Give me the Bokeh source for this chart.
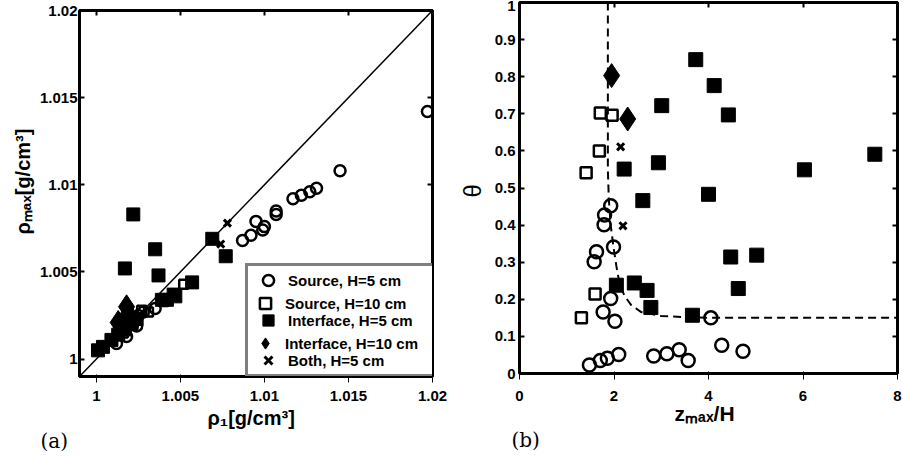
from bokeh.plotting import figure
from bokeh.models import LinearAxis, FixedTicker, Legend, LegendItem, Range1d, Title
from bokeh.layouts import row
from bokeh.embed import file_html
from bokeh.resources import INLINE

# ---------------- panel (a): rho_max against rho_1 ----------------
rho_ticks = [1.0, 1.005, 1.01, 1.015, 1.02]
rho_tick_labels = ["1", "1.005", "1.01", "1.015", "1.02"]

# Source, H=5 cm
a_src5_rho1 = [1.0197, 1.0145, 1.0131, 1.0127, 1.0122, 1.0117, 1.0107, 1.0107,
               1.0100, 1.0099, 1.0095, 1.0092, 1.0087, 1.0035, 1.0028, 1.0025,
               1.0024, 1.0018, 1.0012]
a_src5_rhomax = [1.0142, 1.0108, 1.0098, 1.0096, 1.0094, 1.0092, 1.0085, 1.0083,
                 1.0076, 1.0074, 1.0079, 1.0071, 1.0068, 1.0029, 1.0027, 1.0025,
                 1.0019, 1.0013, 1.0009]
# Source, H=10 cm
a_src10_rho1 = [1.0052, 1.0027, 1.0031, 1.0022, 1.0016, 1.0040]
a_src10_rhomax = [1.0043, 1.0028, 1.0027, 1.0021, 1.0015, 1.0033]
# Interface, H=5 cm
a_int5_rho1 = [1.0022, 1.0035, 1.0017, 1.0037, 1.0069, 1.0077, 1.0057, 1.0047,
               1.0042, 1.0039, 1.0046, 1.0024, 1.0021, 1.0017, 1.0013, 1.0009,
               1.0004, 1.0001]
a_int5_rhomax = [1.0083, 1.0063, 1.0052, 1.0048, 1.0069, 1.0059, 1.0044, 1.0036,
                 1.0034, 1.0034, 1.0037, 1.0023, 1.0020, 1.0017, 1.0014, 1.0011,
                 1.0007, 1.0005]
# Interface, H=10 cm
a_int10_rho1 = [1.0018, 1.0013, 1.0019]
a_int10_rhomax = [1.0030, 1.0021, 1.0026]
# Both, H=5 cm
a_both5_rho1 = [1.0078, 1.0074]
a_both5_rhomax = [1.0078, 1.0066]

identity_line = [0.999, 1.02]

# ---------------- panel (b): theta against z_max/H ----------------
z_ticks = [0, 2, 4, 6, 8]
z_tick_labels = ["0", "2", "4", "6", "8"]
theta_ticks = [0, 0.1, 0.2, 0.3, 0.4, 0.5, 0.6, 0.7, 0.8, 0.9, 1.0]
theta_tick_labels = ["0", "0.1", "0.2", "0.3", "0.4", "0.5", "0.6", "0.7", "0.8", "0.9", "1"]

b_src5_z = [1.93, 1.80, 1.79, 1.99, 1.63, 1.58, 1.93, 1.77, 2.02, 4.05,
            1.48, 1.71, 1.86, 2.10, 2.84, 3.12, 3.38, 3.57, 4.28, 4.73]
b_src5_theta = [0.452, 0.427, 0.401, 0.341, 0.328, 0.301, 0.202, 0.166, 0.141, 0.150,
                0.023, 0.035, 0.041, 0.051, 0.047, 0.053, 0.064, 0.035, 0.076, 0.060]
b_src10_z = [1.71, 1.96, 1.69, 1.41, 1.60, 1.31]
b_src10_theta = [0.702, 0.696, 0.600, 0.541, 0.214, 0.150]
b_int5_z = [3.73, 4.12, 3.01, 4.42, 2.94, 2.215, 6.03, 7.52, 2.61, 4.00,
            4.47, 5.02, 4.63, 2.05, 2.43, 2.70, 2.78, 3.66]
b_int5_theta = [0.846, 0.776, 0.722, 0.697, 0.568, 0.551, 0.549, 0.591, 0.466, 0.483,
                0.314, 0.319, 0.229, 0.238, 0.244, 0.224, 0.178, 0.157]
b_int10_z = [1.95, 2.29]
b_int10_theta = [0.803, 0.686]
b_both5_z = [2.14, 2.19]
b_both5_theta = [0.611, 0.398]

# regime boundary (dashed)
boundary_z = [1.87, 1.87, 1.89, 1.93, 1.99, 2.05, 2.12, 2.22, 2.36, 2.57, 3.0, 3.6, 4.5, 8.0]
boundary_theta = [1.0, 0.55, 0.47, 0.40, 0.34, 0.29, 0.24, 0.21, 0.185, 0.166, 0.155, 0.151, 0.15, 0.15]

legend_labels = ["Source, H=5 cm", "Source, H=10 cm", "Interface, H=5 cm",
                 "Interface, H=10 cm", "Both, H=5 cm"]

SANS = "Liberation Sans"
SERIF = "DejaVu Serif"
H = 457


def style_axes(p, xt, xl, yt, yl, y_standoff, x_standoff):
    p.grid.visible = False
    p.outline_line_color = "black"
    p.outline_line_width = 3
    p.background_fill_color = "white"
    p.border_fill_color = "white"
    p.xaxis.ticker = FixedTicker(ticks=xt)
    p.yaxis.ticker = FixedTicker(ticks=yt)
    p.xaxis.major_label_overrides = {t: s for t, s in zip(xt, xl)}
    p.yaxis.major_label_overrides = {t: s for t, s in zip(yt, yl)}
    p.yaxis.major_label_standoff = y_standoff
    p.xaxis.major_label_standoff = x_standoff
    for ax in (p.xaxis[0], p.yaxis[0]):
        ax.major_label_text_font = SANS
        ax.major_label_text_font_style = "bold"
        ax.major_label_text_font_size = "15px"
        ax.major_label_text_color = "black"
    # mirrored axes on the top and right: tick marks only
    top = LinearAxis(ticker=FixedTicker(ticks=xt), major_label_text_font_size="1px",
                     major_label_text_color=None, major_label_standoff=0, axis_label=None)
    right = LinearAxis(ticker=FixedTicker(ticks=yt), major_label_text_font_size="1px",
                       major_label_text_color=None, major_label_standoff=0, axis_label=None)
    p.add_layout(top, "above")
    p.add_layout(right, "right")
    for ax in (p.xaxis[0], p.yaxis[0], top, right):
        ax.axis_line_color = None
        ax.major_tick_in = 5
        ax.major_tick_out = 0
        ax.major_tick_line_width = 2
        ax.major_tick_line_color = "black"
        ax.minor_tick_line_color = None


def side_text(p, side, text, size, offset, standoff, bold=True, font=SANS):
    p.add_layout(Title(text=text, align="left", offset=offset, standoff=standoff,
                       text_font=font, text_font_size=f"{size}px",
                       text_font_style="bold" if bold else "normal",
                       text_color="black"), side)


def legend_part(items, loc, boxed):
    # rows are 20 px apart: two interleaved legends share one frame
    return Legend(items=items, location=loc, orientation="vertical",
                  glyph_width=40, glyph_height=28, label_height=20, spacing=12,
                  padding=0, margin=0, label_standoff=0, label_width=146,
                  label_text_font=SANS, label_text_font_style="bold",
                  label_text_font_size="15px", label_text_color="black",
                  border_line_color="black" if boxed else None, border_line_width=3,
                  background_fill_color="white",
                  background_fill_alpha=1.0 if boxed else 0.0)


# ---------- figure (a) ----------
pa = figure(width=450, height=H, output_backend="svg", toolbar_location=None, title=None,
            x_range=Range1d(0.999, 1.02), y_range=Range1d(0.999, 1.02),
            min_border_left=79, min_border_right=18, min_border_top=10,
            min_border_bottom=H - 376, frame_align=False)
style_axes(pa, rho_ticks, rho_tick_labels, rho_ticks, rho_tick_labels, 2, 8)

pa.line(identity_line, identity_line, line_color="black", line_width=1.5)
r_a_src5 = pa.scatter(a_src5_rho1, a_src5_rhomax, marker="circle", size=11,
                      fill_color=None, line_color="black", line_width=2.5)
r_a_src10 = pa.scatter(a_src10_rho1, a_src10_rhomax, marker="square", size=9,
                       fill_color=None, line_color="black", line_width=2.5)
r_a_int5 = pa.scatter(a_int5_rho1, a_int5_rhomax, marker="square", size=13,
                      fill_color="black", line_color="black", line_width=1)
r_a_int10 = pa.scatter(a_int10_rho1, a_int10_rhomax, marker="diamond", size=24,
                       fill_color="black", line_color="black", line_width=1)
r_a_both5 = pa.scatter(a_both5_rho1, a_both5_rhomax, marker="x", size=10,
                       line_color="black", line_width=3)

entries = [LegendItem(label=lab, renderers=[r]) for lab, r in
           zip(legend_labels, [r_a_src5, r_a_src10, r_a_int5, r_a_int10, r_a_both5])]
pa.add_layout(legend_part(entries[0::2], (166, -1), True))
pa.add_layout(legend_part(entries[1::2], (166, 19), False))

# axis titles and panel tag
side_text(pa, "below", "\u03c1\u2081[g/cm\u00b3]", 20, offset=128, standoff=2)
side_text(pa, "below", "(a)", 20, offset=-39, standoff=-6, bold=False, font=SERIF)
side_text(pa, "left", "\u03c1\u2098\u2090\u2093[g/cm\u00b3]", 20, offset=142, standoff=6)

# ---------- figure (b) ----------
pb = figure(width=453, height=H, output_backend="svg", toolbar_location=None, title=None,
            x_range=Range1d(0, 8), y_range=Range1d(0, 1),
            min_border_left=68, min_border_right=6, min_border_top=2,
            min_border_bottom=H - 373, frame_align=False)
style_axes(pb, z_ticks, z_tick_labels, theta_ticks, theta_tick_labels, 4, 11)

pb.line(boundary_z, boundary_theta, line_color="black", line_width=2, line_dash="8 5")
pb.scatter(b_src5_z, b_src5_theta, marker="circle", size=13,
           fill_color=None, line_color="black", line_width=2.5)
pb.scatter(b_src10_z, b_src10_theta, marker="square", size=11,
           fill_color=None, line_color="black", line_width=2.5)
pb.scatter(b_int5_z, b_int5_theta, marker="square", size=14,
           fill_color="black", line_color="black", line_width=1)
pb.scatter(b_int10_z, b_int10_theta, marker="diamond", size=24,
           fill_color="black", line_color="black", line_width=1)
pb.scatter(b_both5_z, b_both5_theta, marker="x", size=10,
           line_color="black", line_width=3)

side_text(pb, "below", "z\u2098\u2090\u2093/H", 21, offset=155, standoff=-8)
side_text(pb, "below", "(b)", 20, offset=-8, standoff=10, bold=False, font=SERIF)
side_text(pb, "left", "\u03b8", 24, offset=176, standoff=12, bold=False)

layout = row(pa, pb)
open("out.html", "w").write(file_html(layout, INLINE))
